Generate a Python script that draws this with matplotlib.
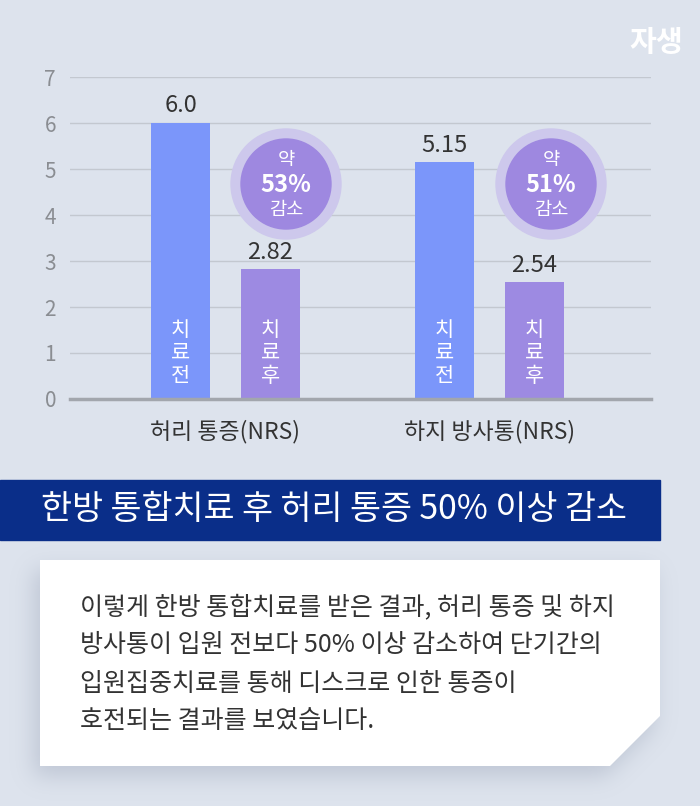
import matplotlib
matplotlib.use("Agg")
import matplotlib.pyplot as plt
from matplotlib.patches import Ellipse, Polygon, Rectangle
from matplotlib.path import Path
from matplotlib.colors import to_rgb
import numpy as np

plt.rcParams['font.family'] = ['Noto Sans CJK KR', 'DejaVu Sans']

categories = ["허리 통증(NRS)", "하지 방사통(NRS)"]
before = [6.0, 5.15]
after = [2.82, 2.54]
before_labels = ["6.0", "5.15"]
after_labels = ["2.82", "2.54"]
reductions = ["53%", "51%"]
yticks = [0, 1, 2, 3, 4, 5, 6, 7]

title = "한방 통합치료 후 허리 통증 50% 이상 감소"
body = ["이렇게 한방 통합치료를 받은 결과, 허리 통증 및 하지",
        "방사통이 입원 전보다 50% 이상 감소하여 단기간의",
        "입원집중치료를 통해 디스크로 인한 통증이",
        "호전되는 결과를 보였습니다."]

W, H = 700, 806
BG = "#dde3ed"
C_BEFORE = "#7b96fa"
C_AFTER = "#9d8ae2"

fig = plt.figure(figsize=(W / 100, H / 100), dpi=100, facecolor=BG)

def fx(px):
    return px / W

def fy(py):
    return 1 - py / H

ax = fig.add_axes([fx(70), fy(399), fx(651) - fx(70), fy(77) - fy(399)])
ax.set_facecolor(BG)
ax.set_xlim(-0.589, 1.612)
ax.set_ylim(0, 7)
for s in ["top", "right", "left"]:
    ax.spines[s].set_visible(False)
ax.spines["bottom"].set_color("#a2a6ad")
ax.spines["bottom"].set_linewidth(2.5)
ax.set_yticks(yticks)
ax.set_yticklabels([str(v) for v in yticks], color="#8a8d92", fontsize=15, fontweight="light")
ax.tick_params(axis="y", length=0, pad=10)
ax.yaxis.grid(True, color="#c3c8d0", linewidth=1)
ax.set_axisbelow(True)

x = np.arange(len(categories))
off = 0.17
bw = 0.2235
ax.bar(x - off, before, bw, color=C_BEFORE, zorder=2)
ax.bar(x + off, after, bw, color=C_AFTER, zorder=2)

ax.set_xticks(x)
ax.set_xticklabels(categories, fontsize=16.5, color="#333333", fontweight="medium")
ax.tick_params(axis="x", length=0, pad=15)

for xi, v, lab in zip(x - off, before, before_labels):
    ax.annotate(lab, (xi, v), xytext=(0, 4), textcoords="offset points",
                ha="center", va="bottom", fontsize=17, color="#333333", fontweight="light")
for xi, v, lab in zip(x + off, after, after_labels):
    ax.annotate(lab, (xi, v), xytext=(0, 4), textcoords="offset points",
                ha="center", va="bottom", fontsize=17, color="#333333", fontweight="light")

for xi in x - off:
    ax.text(xi, 1.0, "치\n료\n전", ha="center", va="center", color="white",
            fontsize=15, linespacing=1.05)
for xi in x + off:
    ax.text(xi, 1.0, "치\n료\n후", ha="center", va="center", color="white",
            fontsize=15, linespacing=1.05)

# reduction circles
circle_centers = [(286, 184), (551, 184)]
for (cx, cy), red in zip(circle_centers, reductions):
    fig.patches.append(Ellipse((fx(cx), fy(cy)), 2 * 55 / W, 2 * 55 / H,
                               transform=fig.transFigure, color="#cdc8ec", zorder=3))
    fig.patches.append(Ellipse((fx(cx), fy(cy)), 2 * 45 / W, 2 * 45 / H,
                               transform=fig.transFigure, color="#9e88e0", zorder=4))
    fig.text(fx(cx), fy(cy - 24), "약", ha="center", va="center", color="white",
             fontsize=13.5, zorder=5)
    fig.text(fx(cx), fy(cy + 1), red, ha="center", va="center", color="white",
             fontsize=17, fontweight="bold", zorder=5)
    fig.text(fx(cx), fy(cy + 25), "감소", ha="center", va="center", color="white",
             fontsize=13.5, zorder=5)

# brand
fig.text(fx(683), fy(42), "자생", ha="right", va="center", color="white",
         fontsize=21, fontweight="bold")

# title banner
fig.patches.append(Rectangle((0, fy(540)), fx(660), fy(480) - fy(540),
                             transform=fig.transFigure, color="#0a2e89", zorder=1))
fig.text(fx(334), fy(509), title, ha="center", va="center", color="white",
         fontsize=24.3, zorder=2)

# text box with soft shadow
box = [(40, 560), (660, 560), (660, 716), (610, 766), (40, 766)]
yy, xx = np.mgrid[0:H, 0:W]
shadow_path = Path([(px - 6, py + 10) for px, py in box])
mask = shadow_path.contains_points(np.c_[xx.ravel() + 0.5, yy.ravel() + 0.5]).reshape(H, W).astype(float)
sig = 11
k = np.exp(-0.5 * (np.arange(-3 * sig, 3 * sig + 1) / sig) ** 2)
k /= k.sum()
pad = len(k) // 2
def blur1d(a, axis):
    ap = np.pad(a, [(pad, pad) if i == axis else (0, 0) for i in range(2)])
    out = np.zeros_like(a)
    n = a.shape[axis]
    for i, kv in enumerate(k):
        if axis == 0:
            out += kv * ap[i:i + n, :]
        else:
            out += kv * ap[:, i:i + n]
    return out
blurred = blur1d(blur1d(mask, 0), 1)
sc = to_rgb("#8e98ad")
img = np.zeros((H, W, 4))
img[..., 0], img[..., 1], img[..., 2] = sc
img[..., 3] = blurred * 0.38
fig.figimage(img, 0, 0, origin="upper", zorder=0.5)

fig.patches.append(Polygon([(fx(px), fy(py)) for px, py in box], closed=True,
                           transform=fig.transFigure, color="white", lw=0, zorder=2))
line_y = [607, 645, 684, 721]
for ly, t in zip(line_y, body):
    fig.text(fx(80), fy(ly), t, ha="left", va="center", color="#333333",
             fontsize=18, zorder=3)

fig.savefig("out.png", dpi=100, facecolor=BG)
